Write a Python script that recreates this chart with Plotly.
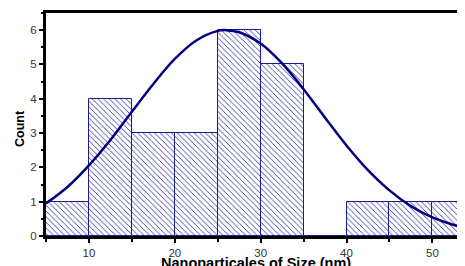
import plotly.graph_objects as go

# Histogram data (bin width 5 nm)
bin_centers = [7.5, 12.5, 17.5, 22.5, 27.5, 32.5, 37.5, 42.5, 47.5, 52.5]
counts = [1, 4, 3, 3, 6, 5, 0, 1, 1, 1]
bin_width = 5

# Fitted distribution curve
curve_x = [5, 7.5, 10, 12.5, 15, 17.5, 20, 22.5, 25, 26, 27.5, 30, 32.5, 35,
           37.5, 40, 42.5, 45, 47.5, 50, 52.5, 55]
curve_y = [0.95, 1.43, 2.06, 2.80, 3.62, 4.43, 5.16, 5.70, 5.98, 6.0, 5.94, 5.61,
           5.03, 4.28, 3.45, 2.64, 1.92, 1.33, 0.87, 0.54, 0.32, 0.18]

x_ticks = [10, 20, 30, 40, 50]
y_ticks = [0, 1, 2, 3, 4, 5, 6]

navy = "#000080"

fig = go.Figure()
fig.add_trace(go.Bar(
    x=bin_centers, y=counts, width=[bin_width] * len(counts),
    marker=dict(
        color="white",
        line=dict(color="#1c1c8c", width=1),
        pattern=dict(shape="\\", fgcolor="#3030a0", bgcolor="white",
                     size=4, solidity=0.22, fillmode="replace"),
    ),
    showlegend=False,
))
fig.add_trace(go.Scatter(
    x=curve_x, y=curve_y, mode="lines", line=dict(color=navy, width=2.5, shape="spline"),
    showlegend=False,
))

# page body has an 8px default margin, so the figure is sized to fill the rest
fig.update_layout(
    width=457, height=258,
    margin=dict(l=38, r=0, t=5, b=30, autoexpand=False),
    plot_bgcolor="white", paper_bgcolor="white",
    bargap=0,
    font=dict(family="Liberation Sans, Arial, sans-serif", color="#333333", size=11),
    xaxis=dict(
        range=[5, 53.8], tickvals=x_ticks, ticks="outside", ticklen=4, tickwidth=1.5,
        tickcolor="black", showline=True, linecolor="black", linewidth=3, mirror=True,
        showgrid=False, zeroline=False, tickfont=dict(size=11.5, color="#333333"),
        minor=dict(dtick=5, tick0=5, ticks="outside", ticklen=3, tickcolor="black"),
        automargin=False,
    ),
    yaxis=dict(
        range=[0, 6.5], tickvals=y_ticks, ticks="outside", ticklen=4, tickwidth=1.5,
        tickcolor="black", showline=True, linecolor="black", linewidth=3,
        showgrid=False, zeroline=False, tickfont=dict(size=11.5, color="#333333"),
        minor=dict(dtick=0.5, tick0=0, ticks="outside", ticklen=2, tickcolor="black"),
        automargin=False,
    ),
    annotations=[
        dict(text="<b>Nanoparticales of Size (nm)</b>", xref="paper", yref="paper",
             x=0.5, y=-0.078, xanchor="center", yanchor="top", showarrow=False,
             font=dict(size=14.5, color="black")),
        dict(text="<b>Count</b>", xref="paper", yref="paper", textangle=-90,
             x=-0.062, y=0.48, xanchor="center", yanchor="middle", showarrow=False,
             font=dict(size=12.5, color="black")),
    ],
)

fig.write_html("out.html")
